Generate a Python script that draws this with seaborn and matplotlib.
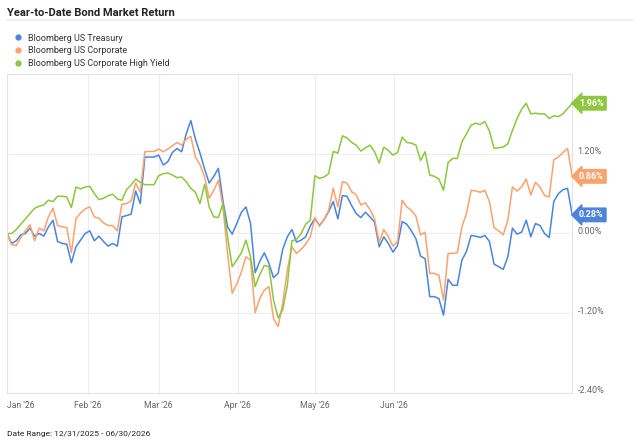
import numpy as np
import pandas as pd
import matplotlib
matplotlib.use("Agg")
import matplotlib.pyplot as plt
import matplotlib.transforms as mtransforms
from matplotlib.lines import Line2D
import seaborn as sns

# YTD cumulative return (%) per trading day
treasury = [
    0.00, -0.15, -0.11, -0.02, 0.00, 0.08, -0.04, 0.00, -0.04, 0.10,
    0.20, -0.12, -0.15, -0.16, -0.44, -0.20, -0.10, 0.00, 0.04, -0.11,
    -0.04, -0.12, -0.19, -0.15, -0.19, 0.25, 0.27, 0.29, 0.64, 0.45,
    1.15, 1.15, 1.15, 1.18, 1.03, 1.08, 1.22, 1.28, 1.23, 1.50,
    1.70, 1.42, 1.21, 0.97, 0.76, 0.86, 0.98, 0.49, 0.10, -0.01,
    0.15, 0.32, 0.40, 0.15, -0.59, -0.42, -0.29, -0.45, -0.665, -0.60,
    -0.24, -0.05, 0.06, -0.13, -0.10, -0.05, 0.11, 0.23, 0.12, 0.21,
    0.33, 0.48, 0.22, 0.57, 0.56, 0.42, 0.30, 0.24, 0.32, 0.25,
    0.17, -0.20, -0.05, -0.15, -0.28, -0.18, 0.18, 0.14, 0.04, -0.08,
    -0.34, -0.38, -0.95, -0.95, -0.98, -1.23, -0.69, -0.78, -0.78, -0.40,
    -0.27, -0.03, -0.04, -0.06, -0.03, -0.12, -0.46, -0.50, -0.54, -0.35,
    0.08, -0.01, 0.02, 0.20, -0.05, 0.15, 0.12, 0.00, -0.06, 0.48,
    0.60, 0.66, 0.68, 0.28,
]
corporate = [
    0.00, -0.17, -0.18, -0.06, 0.04, 0.13, -0.11, 0.08, 0.04, 0.25,
    0.38, 0.12, 0.10, 0.09, -0.29, 0.22, 0.31, 0.37, 0.40, 0.25,
    0.23, 0.16, 0.12, 0.12, 0.04, 0.44, 0.45, 0.49, 0.76, 0.62,
    1.23, 1.235, 1.235, 1.27, 1.23, 1.27, 1.32, 1.37, 1.33, 1.42,
    1.46, 1.15, 1.035, 0.85, 0.53, 0.65, 0.80, 0.40, -0.30, -0.90,
    -0.76, -0.58, -0.35, -0.40, -1.19, -0.98, -0.85, -0.80, -1.28, -1.40,
    -1.05, -0.55, -0.20, -0.30, -0.24, -0.16, -0.05, 0.24, 0.11, 0.21,
    0.35, 0.68, 0.40, 0.78, 0.76, 0.63, 0.58, 0.43, 0.46, 0.36,
    0.22, -0.13, 0.06, -0.05, -0.19, -0.12, 0.50, 0.40, 0.35, 0.26,
    -0.02, 0.02, -0.60, -0.60, -0.63, -1.00, -0.30, -0.30, -0.29, 0.10,
    0.30, 0.65, 0.64, 0.62, 0.65, 0.48, 0.09, 0.04, -0.02, 0.20,
    0.70, 0.64, 0.70, 0.82, 0.58, 0.77, 0.70, 0.57, 0.55, 1.11,
    1.15, 1.22, 1.28, 0.86,
]
high_yield = [
    0.00, 0.00, 0.06, 0.14, 0.22, 0.30, 0.38, 0.41, 0.43, 0.50,
    0.48, 0.56, 0.56, 0.55, 0.39, 0.70, 0.67, 0.70, 0.71, 0.60,
    0.51, 0.53, 0.57, 0.59, 0.52, 0.50, 0.66, 0.73, 0.82, 0.77,
    0.735, 0.735, 0.735, 0.87, 0.90, 0.91, 0.88, 0.84, 0.85, 0.78,
    0.68, 0.62, 0.45, 0.74, 0.40, 0.25, 0.24, 0.45, -0.05, -0.50,
    -0.40, -0.29, -0.10, -0.35, -0.80, -0.62, -0.48, -0.50, -1.00, -1.27,
    -1.15, -0.78, -0.11, -0.09, 0.00, 0.14, 0.20, 0.87, 0.83, 0.85,
    0.90, 1.235, 1.21, 1.47, 1.44, 1.37, 1.33, 1.24, 1.29, 1.33,
    1.23, 1.06, 1.30, 1.25, 1.18, 1.22, 1.45, 1.37, 1.36, 1.33,
    1.10, 1.23, 0.88, 0.86, 0.82, 0.65, 1.07, 1.13, 1.13, 1.38,
    1.50, 1.63, 1.66, 1.64, 1.685, 1.54, 1.28, 1.29, 1.30, 1.35,
    1.55, 1.73, 1.87, 1.96, 1.80, 1.81, 1.80, 1.80, 1.73, 1.77,
    1.76, 1.80, 1.88, 1.96,
]

series_names = ["Bloomberg US Treasury", "Bloomberg US Corporate",
                "Bloomberg US Corporate High Yield"]
colors = ["#4C84DB", "#F9A36E", "#8DC63F"]

month_labels = ["Jan '26", "Feb '26", "Mar '26", "Apr '26", "May '26", "Jun '26"]
month_pos = [0.0, 17.6, 33.0, 50.2, 67.0, 84.2]
y_ticks = [1.2, 0.0, -1.2, -2.4]

frames = []
for name, vals in zip(series_names, [treasury, corporate, high_yield]):
    frames.append(pd.DataFrame({"day": np.arange(len(vals)), "ret": vals, "series": name}))
df = pd.concat(frames, ignore_index=True)

sns.set_theme(style="white")
plt.rcParams["font.family"] = ["Roboto", "DejaVu Sans"]

fig = plt.figure(figsize=(6.4, 4.48), dpi=100)
ax = fig.add_axes([0.011, 0.1228, 0.883, 0.712])

sns.lineplot(data=df, x="day", y="ret", hue="series", palette=colors,
             linewidth=1.1, legend=False, ax=ax)

n = len(treasury)
ax.set_xlim(0, n - 1)
ax.set_ylim(-2.4, 2.4)

# gridlines
for p in month_pos[1:]:
    ax.axvline(p, color="#eeeeee", lw=0.8, zorder=0)
ax.set_yticks(y_ticks)
ax.grid(axis="y", color="#eeeeee", lw=0.8)
ax.set_axisbelow(True)

for s in ax.spines.values():
    s.set_color("#e3e3e3")
    s.set_linewidth(0.8)

ax.yaxis.tick_right()
ax.set_yticklabels([f"{t:.2f}%" for t in y_ticks])
ax.tick_params(axis="y", length=0, pad=4, labelsize=6.5, labelcolor="#666666")
off = mtransforms.ScaledTranslation(0, 3 / 100, fig.dpi_scale_trans)
for lab in ax.get_yticklabels():
    lab.set_transform(lab.get_transform() + off)

ax.set_xticks(month_pos)
ax.set_xticklabels(month_labels)
ax.tick_params(axis="x", length=0, pad=6, labelsize=6.2, labelcolor="#666666")
ax.get_xticklabels()[0].set_horizontalalignment("left")
ax.set_xlabel("")
ax.set_ylabel("")

# end-of-line value tags
for vals, c in zip([treasury, corporate, high_yield], colors):
    ax.annotate(f"{vals[-1]:.2f}%", xy=(n - 1, vals[-1]), xytext=(5, 0),
                textcoords="offset points", ha="left", va="center",
                fontsize=6.5, fontweight="bold", color="white",
                bbox=dict(boxstyle="larrow,pad=0.25", fc=c, ec=c),
                annotation_clip=False)

# title, separator, legend, footer
fig.text(0.011, 0.972, "Year-to-Date Bond Market Return", fontsize=8,
         fontweight="bold", color="#222222", va="center", ha="left")
fig.add_artist(Line2D([0.011, 0.99], [0.955, 0.955], transform=fig.transFigure,
                      color="#eeeeee", lw=1.2))

handles = [Line2D([], [], marker="o", ls="", color=c, markersize=3.5) for c in colors]
fig.legend(handles, series_names, loc="upper left", bbox_to_anchor=(0.022, 0.925),
           frameon=False, fontsize=6.5, handlelength=0.8, handletextpad=0.7,
           labelspacing=0.42, borderaxespad=0, borderpad=0, labelcolor="#333333")

fig.text(0.011, 0.031, "Date Range: 12/31/2025 - 06/30/2026", fontsize=6,
         color="#222222", va="center", ha="left")

fig.savefig("out.png", dpi=100)
